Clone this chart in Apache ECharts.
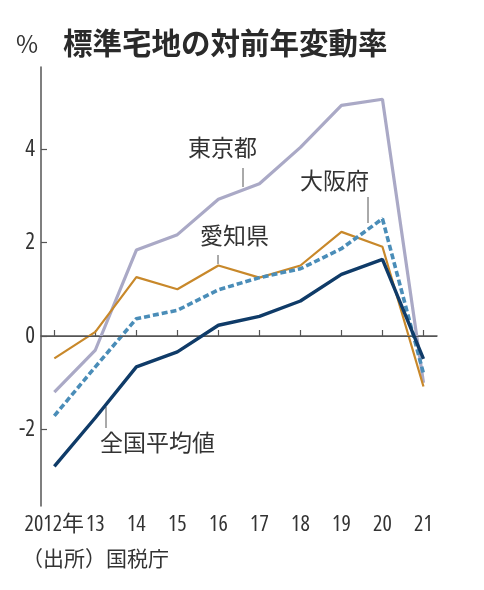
<!DOCTYPE html>
<html>
<head>
<meta charset="utf-8">
<script src="https://cdn.jsdelivr.net/npm/echarts@6/dist/echarts.min.js"></script>
<style>
html,body{margin:0;padding:0;background:#fff;}
#c{width:484px;height:590px;}
</style>
</head>
<body>
<div id="c"></div>
<script>
const years = [2012, 2013, 2014, 2015, 2016, 2017, 2018, 2019, 2020, 2021];
const tokyo = [-1.2, -0.3, 1.84, 2.17, 2.93, 3.26, 4.04, 4.94, 5.07, -1.0];
const aichi = [-0.48, 0.09, 1.26, 1.0, 1.51, 1.25, 1.51, 2.23, 1.91, -1.08];
const osaka = [-1.71, -0.66, 0.37, 0.55, 0.99, 1.25, 1.44, 1.87, 2.51, -0.8];
const national = [-2.79, -1.75, -0.66, -0.34, 0.23, 0.42, 0.75, 1.32, 1.64, -0.49];
const yTicks = [-2, 0, 2, 4];
const seriesNames = ['東京都', '愛知県', '大阪府', '全国平均値'];

const NUM_FONT = "'Open Sans', 'Noto Sans CJK JP', sans-serif";
const JP_FONT = "'Noto Sans CJK JP', sans-serif";

const pairs = arr => years.map((y, i) => [y, arr[i]]);

const chart = echarts.init(document.getElementById('c'), null, {renderer: 'canvas'});
chart.setOption({
  animation: false,
  backgroundColor: '#fff',
  grid: {left: 41, right: 47, top: 67, bottom: 84, containLabel: false},
  xAxis: {
    type: 'value',
    min: 2011.675,
    max: 2021.33,
    axisLine: {show: true, lineStyle: {color: '#555', width: 1.5}},
    axisTick: {show: true, inside: true, length: 6, lineStyle: {color: '#555', width: 1.2}, customValues: years},
    axisLabel: {
      customValues: years, showMinLabel: true, showMaxLabel: true, hideOverlap: false,
      color: '#333', fontSize: 22, fontFamily: NUM_FONT, fontWeight: 'condensed', margin: 8,
      formatter: v => v === 2012 ? '2012年' : String(v).slice(2)
    },
    splitLine: {show: false}
  },
  yAxis: {
    type: 'value',
    min: -3.64,
    max: 5.76,
    axisLine: {show: true, lineStyle: {color: '#555', width: 1.5}},
    axisTick: {show: true, inside: true, length: 6, lineStyle: {color: '#555', width: 1.2}, customValues: yTicks},
    axisLabel: {customValues: yTicks, color: '#333', fontSize: 23, fontFamily: NUM_FONT, fontWeight: 'condensed', margin: 6},
    splitLine: {show: false}
  },
  series: [
    {
      name: seriesNames[0], type: 'line', data: pairs(tokyo), symbol: 'none',
      lineStyle: {color: '#aaa9c6', width: 3.2}, z: 2,
      markLine: {
        silent: true, symbol: 'none', label: {show: false},
        lineStyle: {color: '#555', width: 1, type: 'solid'},
        data: [{yAxis: 0}]
      }
    },
    {
      name: seriesNames[1], type: 'line', data: pairs(aichi), symbol: 'none',
      lineStyle: {color: '#c8882a', width: 2.2}, z: 3
    },
    {
      name: seriesNames[2], type: 'line', data: pairs(osaka), symbol: 'none',
      lineStyle: {color: '#4a8db8', width: 3.6, type: [6, 3]}, z: 4
    },
    {
      name: seriesNames[3], type: 'line', data: pairs(national), symbol: 'none',
      lineStyle: {color: '#0f3b68', width: 3.4}, z: 5
    }
  ],
  graphic: [
    {type: 'text', left: 63, top: 28, style: {text: '標準宅地の対前年変動率', font: "bold 29.5px 'Noto Sans CJK JP'", fill: '#2a2a2a'}},
    {type: 'text', left: 16, top: 32, style: {text: '%', font: "24px 'Noto Sans CJK JP'", fill: '#333'}},
    {type: 'text', left: 22, top: 548, style: {text: '（出所）国税庁', font: "21px " + JP_FONT, fill: '#333'}},
    {type: 'text', left: 188, top: 136, style: {text: seriesNames[0], font: "23px " + JP_FONT, fill: '#333'}},
    {type: 'line', shape: {x1: 243, y1: 168, x2: 243, y2: 187}, style: {stroke: '#555', lineWidth: 1}},
    {type: 'text', left: 300, top: 169, style: {text: '大阪府', font: "23px " + JP_FONT, fill: '#333'}},
    {type: 'line', shape: {x1: 368, y1: 197, x2: 368, y2: 223}, style: {stroke: '#555', lineWidth: 1}},
    {type: 'text', left: 200, top: 224, style: {text: seriesNames[1], font: "23px " + JP_FONT, fill: '#333'}},
    {type: 'line', shape: {x1: 218, y1: 255, x2: 218, y2: 264}, style: {stroke: '#555', lineWidth: 1}},
    {type: 'text', left: 100, top: 431, style: {text: seriesNames[3], font: "23px " + JP_FONT, fill: '#333'}},
    {type: 'line', shape: {x1: 106, y1: 407, x2: 106, y2: 428}, style: {stroke: '#555', lineWidth: 1}}
  ]
});
</script>
</body>
</html>
